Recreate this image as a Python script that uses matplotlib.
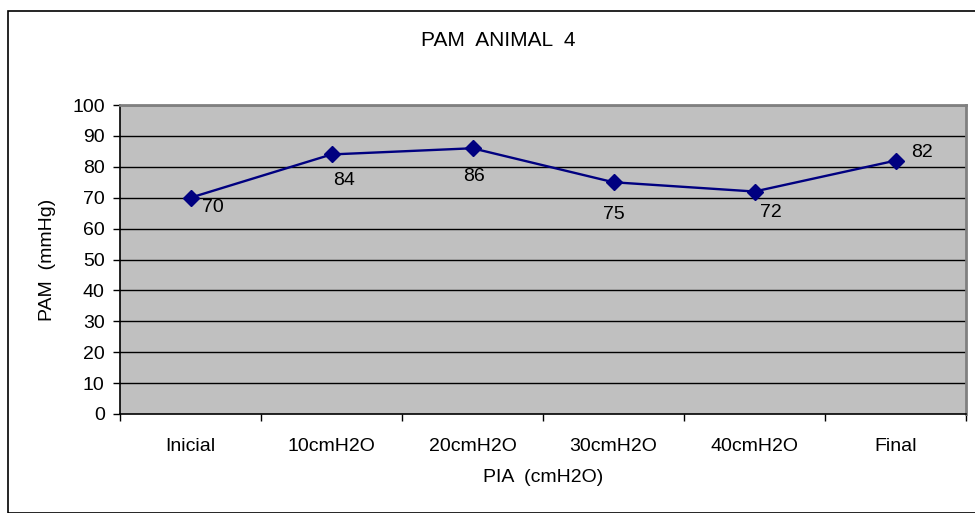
import matplotlib
matplotlib.use("Agg")
import matplotlib.pyplot as plt
from matplotlib.patches import Rectangle

plt.rcParams['font.family'] = ['Liberation Sans', 'DejaVu Sans']

categories = ["Inicial", "10cmH2O", "20cmH2O", "30cmH2O", "40cmH2O", "Final"]
pam_values = [70, 84, 86, 75, 72, 82]
y_ticks = list(range(0, 101, 10))

# label offsets (points) relative to each marker
label_offsets = [(16, -7), (9, -19), (1, -20), (0, -23), (12, -15), (19, 6)]

FS = 14
W, H = 975, 513
fig = plt.figure(figsize=(W / 100, H / 100), dpi=100)

# outer chart frame
fig.patches.append(Rectangle((8 / W, 0), 1.2, (H - 11) / H, transform=fig.transFigure,
                             fill=False, edgecolor='black', linewidth=1.2, zorder=0))

left, top, right, bottom = 120, 105, 966, 414
ax = fig.add_axes([left / W, 1 - bottom / H, (right - left) / W, (bottom - top) / H])
ax.set_facecolor('#C0C0C0')

x = list(range(len(categories)))
ax.set_xlim(-0.5, len(categories) - 0.5)
ax.set_ylim(0, 100)

for v in y_ticks[1:]:
    ax.axhline(v, color='black', linewidth=1.0, zorder=1)

ax.plot(x, pam_values, color='#000080', linewidth=1.7, marker='D', markersize=8,
        markerfacecolor='#000080', markeredgecolor='#000080', zorder=3)

for xi, v, (dx, dy) in zip(x, pam_values, label_offsets):
    ax.annotate(str(v), (xi, v), xytext=(dx, dy), textcoords='offset points',
                ha='center', va='center', fontsize=FS, color='black')

ax.set_yticks(y_ticks)
ax.set_yticklabels([str(t) for t in y_ticks], fontsize=FS)
ax.set_xticks(x)
ax.set_xticklabels(categories, fontsize=FS)
ax.tick_params(axis='x', length=0, pad=17)
ax.tick_params(axis='y', length=5, direction='out', width=1, pad=6)
ax.set_xticks([i - 0.5 for i in range(len(categories) + 1)], minor=True)
ax.tick_params(axis='x', which='minor', length=5, direction='out', width=1)

for s in ('left', 'bottom'):
    ax.spines[s].set_color('black')
    ax.spines[s].set_linewidth(1.2)
for s in ('top', 'right'):
    ax.spines[s].set_color('#808080')
    ax.spines[s].set_linewidth(2)

fig.text(498 / W, 1 - 40 / H, "PAM  ANIMAL  4", ha='center', va='center', fontsize=15)
fig.text(47 / W, 1 - 260 / H, "PAM  (mmHg)", ha='center', va='center', rotation=90, fontsize=FS)
fig.text(543 / W, 1 - 478 / H, "PIA  (cmH2O)", ha='center', va='center', fontsize=FS)

fig.savefig("out.png", dpi=100)
